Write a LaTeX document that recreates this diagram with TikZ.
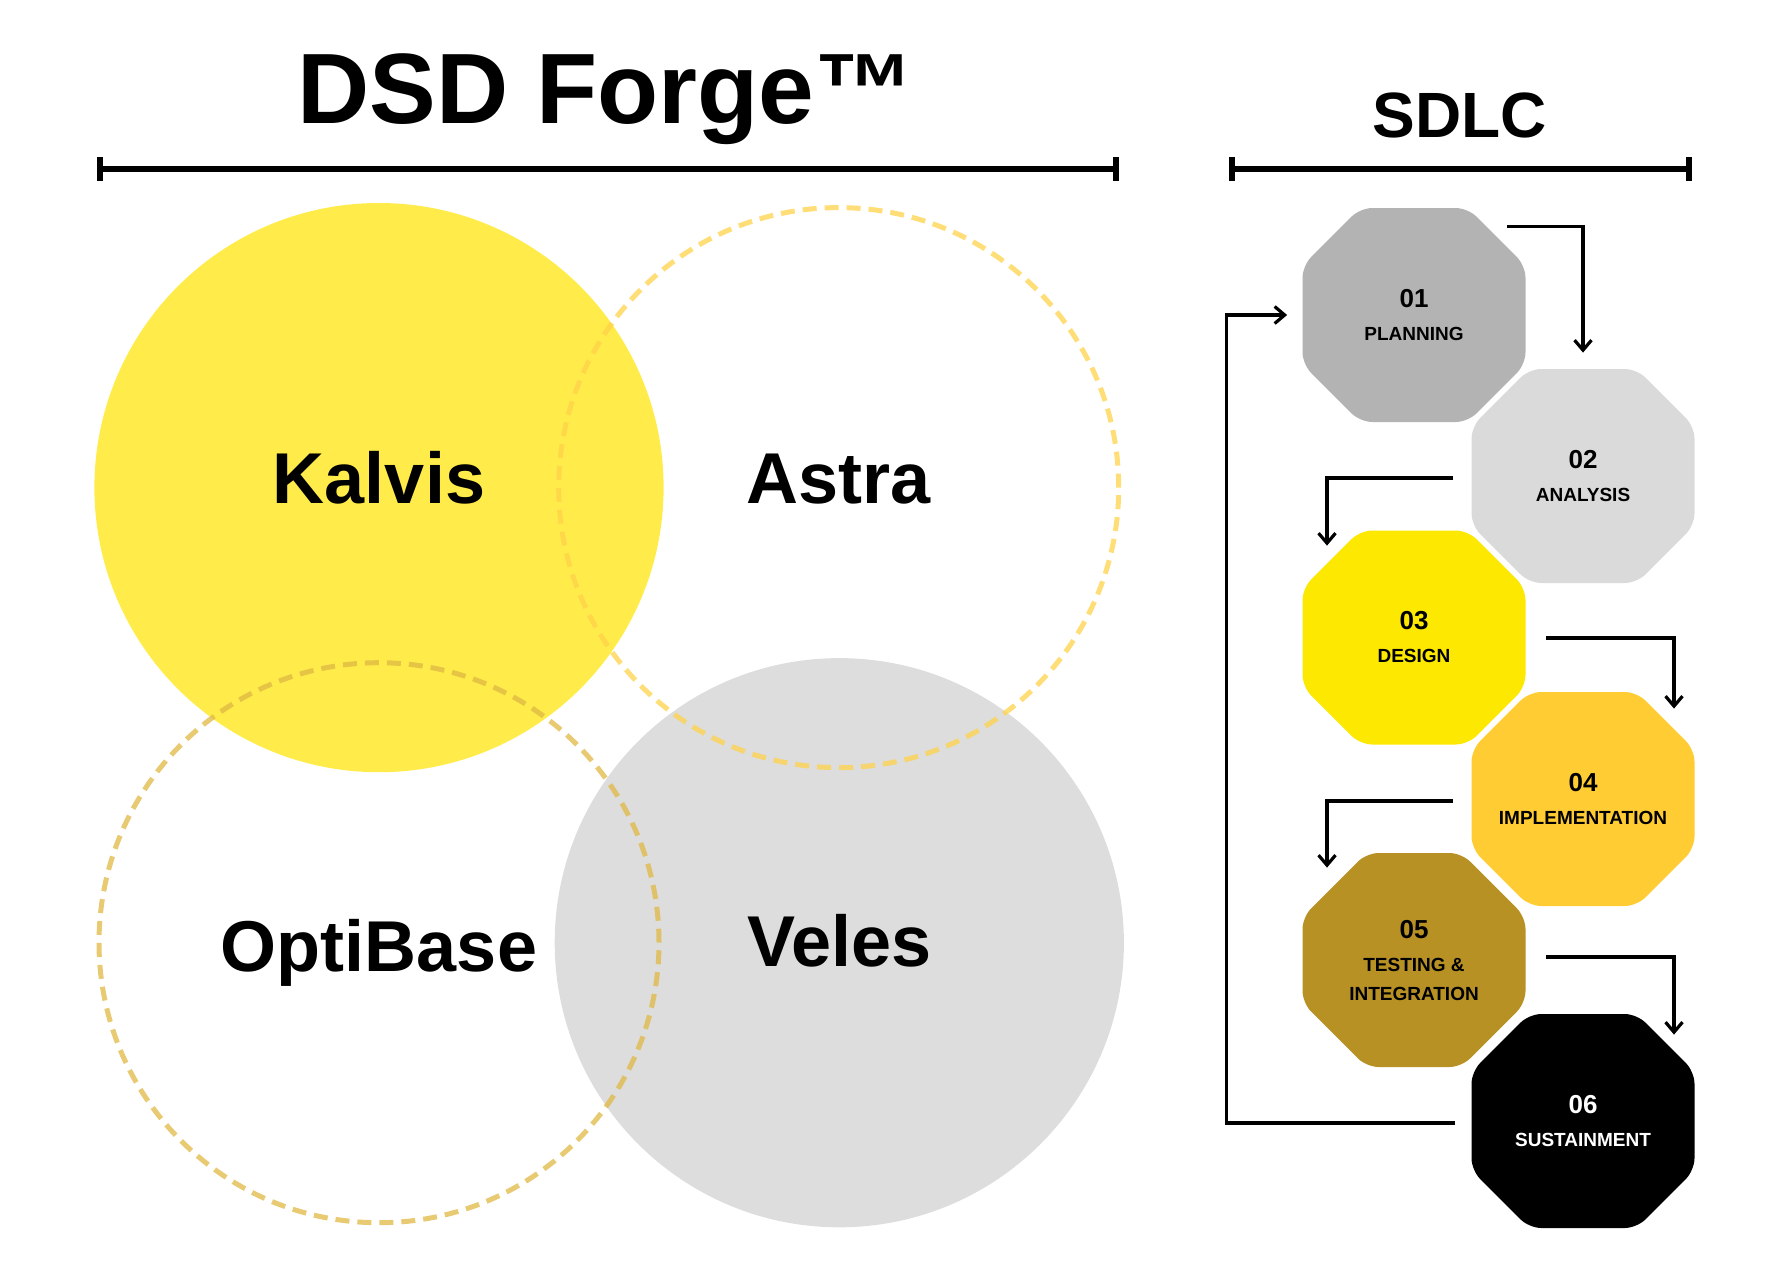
\documentclass[tikz,border=0pt]{standalone}
\usepackage{fontspec}
\setmainfont{Liberation Sans}
\usetikzlibrary{arrows.meta,shapes.misc}

\tikzset{
  phase/.style={chamfered rectangle, chamfered rectangle xsep=16pt,
                chamfered rectangle ysep=16pt, minimum width=111.5pt,
                minimum height=107pt, inner sep=0pt, rounded corners=6pt,
                align=center, font=\bfseries\fontsize{9.5}{14.5}\selectfont},
  flow/.style={-{Straight Barb[length=5pt,width=8.5pt]}, line width=1.6pt},
  span bar/.style={{Bar[width=12pt]}-{Bar[width=12pt]}, line width=3pt},
  ring/.style={line width=2.5pt, dash pattern=on 7pt off 4pt, opacity=0.75},
  tool/.style={anchor=base, font=\bfseries\fontsize{36}{40}\selectfont},
}
\definecolor{kalvisyel}{HTML}{FFEC4A}
\definecolor{velesgray}{HTML}{DDDDDD}
\definecolor{astragold}{HTML}{FFD24A}
\definecolor{optitan}{HTML}{E0B843}
\definecolor{ph1}{HTML}{B3B3B3}
\definecolor{ph2}{HTML}{DADADA}
\definecolor{ph3}{HTML}{FCE800}
\definecolor{ph4}{HTML}{FFCD33}
\definecolor{ph5}{HTML}{B79124}
\definecolor{ph6}{HTML}{000000}

\begin{document}
\begin{tikzpicture}[x=0.5pt, y=-0.5pt]
    \useasboundingbox (0,0) rectangle (1782,1286);

    % ======== HEADINGS ========
    \node[anchor=base, font=\bfseries\fontsize{50}{60}\selectfont] (forge)
      at (606,123) {DSD Forge™};
    \draw[span bar] (97,169) -- (1119,169);
    \node[anchor=base, font=\bfseries\fontsize{32}{38}\selectfont] (sdlc)
      at (1460,137.5) {SDLC};
    \draw[span bar] (1228.5,169) -- (1692,169);

    % ======== VENN (four tools) ========
    \fill[kalvisyel] (379,487.6) circle[radius=142.3pt];
    \fill[velesgray] (839.3,942.7) circle[radius=142.3pt];
    \draw[ring, astragold] (838.7,487.6) circle[radius=140pt];
    \draw[ring, optitan] (379,942.7) circle[radius=140pt];

    \node[tool] (kalvis) at (379,503.5) {Kalvis};
    \node[tool] (astra) at (838.7,503.5) {Astra};
    \node[tool] (optibase) at (379,971.7) {OptiBase};
    \node[tool] (veles) at (839.3,966) {Veles};

    % ======== SDLC PHASES ========
    \foreach \i/\px/\py/\txtcol/\lbl in {
        1/1414/315/black/PLANNING,
        2/1583/476/black/ANALYSIS,
        3/1414/637.5/black/DESIGN,
        4/1583/799/black/IMPLEMENTATION,
        5/1414/960/black/{TESTING \&\\INTEGRATION},
        6/1583/1121/white/SUSTAINMENT} {
      \node[phase, fill=ph\i, text=\txtcol] (s\i) at (\px,\py)
        {{\fontsize{13}{16}\selectfont 0\i}\\[2pt]\lbl};
    }

    % --- step arrows ---
    \draw[flow] ([shift={(93,19)}]s1.north) -| ([shift={(0,-16)}]s2.north);
    \draw[flow] ([shift={(-18,2)}]s2.west) -| ([shift={(-87,15.5)}]s3.north);
    \draw[flow] ([shift={(20,0.5)}]s3.east) -| ([shift={(91,17)}]s4.north);
    \draw[flow] ([shift={(-18,2)}]s4.west) -| ([shift={(-87,15)}]s5.north);
    \draw[flow] ([shift={(20,-3)}]s5.east) -| ([shift={(91,21)}]s6.north);

    % --- back to planning ---
    \draw[flow] ([shift={(-16,2)}]s6.west) -| ([shift={(-75.5,0)}]s1.west)
      -- ([shift={(-15,0)}]s1.west);

\end{tikzpicture}
\end{document}
